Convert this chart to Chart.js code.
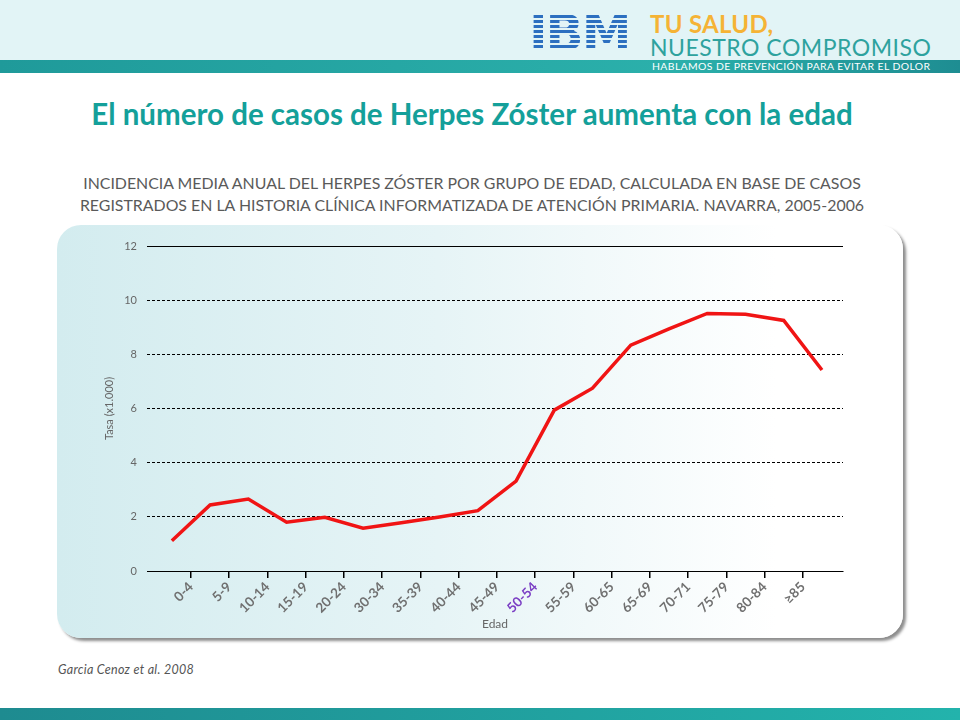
<!DOCTYPE html>
<html lang="es">
<head>
<meta charset="utf-8">
<title>Herpes Zóster por edad</title>
<script src="https://cdn.jsdelivr.net/npm/chart.js@4.4.1/dist/chart.umd.min.js"></script>
<style>
  html, body { margin: 0; padding: 0; }
  body { width: 960px; height: 720px; position: relative; overflow: hidden; background: #fff; font-family: Lato, "Open Sans", sans-serif; }
  #band { position: absolute; left: 0; top: 0; width: 960px; height: 60px; background: #e2f4f6; }
  #bar { position: absolute; left: 0; top: 60px; width: 960px; height: 13px; background: linear-gradient(to right, #1f9a9a, #2bb0ab 70%, #1e8d92); }
  #bar span { position: absolute; left: 652px; top: 0px; font-size: 10.4px; line-height: 13px; color: #fff; letter-spacing: 0.4px; }
  #ibm { position: absolute; left: 529px; top: 10px; font-size: 50px; font-weight: 900; font-family: "DejaVu Sans", sans-serif; letter-spacing: -2px;
         color: transparent; background: repeating-linear-gradient(#2c6fc0 0 3px, transparent 3px 5px); -webkit-background-clip: text; background-clip: text; line-height: 46px; }
  #tu { position: absolute; left: 650px; top: 9px; font-size: 24px; color: #f5b335; font-weight: bold; letter-spacing: 0.3px; }
  #nc { position: absolute; left: 650px; top: 33px; font-size: 23px; color: #2ea29e; letter-spacing: 0.5px; }
  #title { position: absolute; left: 0; width: 944px; top: 96px; text-align: center; font-size: 29.5px; font-weight: bold; color: #14a09a; }
  #sub { position: absolute; left: 0; width: 944px; top: 172px; text-align: center; font-size: 15.9px; line-height: 22px; color: #5a5a5a; }
  #panel { position: absolute; left: 57px; top: 225px; width: 846px; height: 413px; border-radius: 24px;
           background: linear-gradient(to right, #d3ecef 0%, #e6f4f6 45%, #ffffff 85%); box-shadow: 3px 3px 3px rgba(0,0,0,0.45); }
  #panel canvas { position: absolute; left: 0; top: 0; }
  #cite { position: absolute; left: 58px; top: 662px; font-size: 12.5px; font-style: italic; color: #555; letter-spacing: 0.3px; }
  #foot { position: absolute; left: 0; top: 708px; width: 960px; height: 12px; background: linear-gradient(to right, #1e8b90, #23b3ac); }
</style>
</head>
<body>
<div id="band"></div>
<div id="bar"><span>HABLAMOS DE PREVENCIÓN PARA EVITAR EL DOLOR</span></div>
<div id="ibm">IBM</div>
<div id="tu">TU SALUD,</div>
<div id="nc">NUESTRO COMPROMISO</div>
<div id="title">El número de casos de Herpes Zóster aumenta con la edad</div>
<div id="sub">INCIDENCIA MEDIA ANUAL DEL HERPES ZÓSTER POR GRUPO DE EDAD, CALCULADA EN BASE DE CASOS<br>REGISTRADOS EN LA HISTORIA CLÍNICA INFORMATIZADA DE ATENCIÓN PRIMARIA. NAVARRA, 2005-2006</div>
<div id="panel"><canvas id="chart" width="846" height="413"></canvas></div>
<div id="cite">Garcia Cenoz et al. 2008</div>
<div id="foot"></div>

<script>
// tick labels on the x axis (the original shows 17, one group is missing)
const ageGroups = ['0-4', '5-9', '10-14', '15-19', '20-24', '30-34', '35-39', '40-44', '45-49',
                   '50-54', '55-59', '60-65', '65-69', '70-71', '75-79', '80-84', '≥85'];
// rate per 1.000, the red line has 18 points
const rates = [1.12, 2.44, 2.66, 1.80, 1.98, 1.58, 1.78, 1.99, 2.23,
               3.32, 5.94, 6.75, 8.34, 8.94, 9.51, 9.48, 9.25, 7.42];
const yTicks = [0, 2, 4, 6, 8, 10, 12];

const highlightIndex = ageGroups.indexOf('50-54');

// solid line on top of the grid at the max value
const topLine = {
    id: 'topLine',
    afterDraw(chart) {
        const y = chart.scales.y.getPixelForValue(yTicks[yTicks.length - 1]);
        const ctx = chart.ctx;
        ctx.save();
        ctx.strokeStyle = '#000';
        ctx.lineWidth = 1;
        ctx.beginPath();
        ctx.moveTo(chart.chartArea.left, Math.round(y) + 0.5);
        ctx.lineTo(chart.chartArea.right, Math.round(y) + 0.5);
        ctx.stroke();
        ctx.restore();
    }
};

const ctx = document.getElementById('chart').getContext('2d');
new Chart(ctx, {
    type: 'line',
    data: {
        datasets: [{
            label: 'Tasa',
            data: rates.map((v, i) => ({ x: i, y: v })),
            borderColor: '#f01414',
            borderWidth: 3.5,
            pointRadius: 0,
            tension: 0,
            fill: false
        }]
    },
    options: {
        responsive: false,
        animation: false,
        layout: { padding: { left: 40, right: 60, top: 21, bottom: 7 } },
        plugins: { legend: { display: false }, tooltip: { enabled: false } },
        scales: {
            x: {
                type: 'linear',
                min: -0.65,
                max: 17.55,
                afterBuildTicks: s => { s.ticks = ageGroups.map((g, i) => ({ value: i + 0.5 })); },
                afterFit: s => { s.height = 60; },
                ticks: {
                    autoSkip: false,
                    minRotation: 45,
                    maxRotation: 45,
                    padding: 1,
                    callback: (v, i) => ageGroups[i],
                    color: c => c.index === highlightIndex ? '#7b3fc4' : '#707070',
                    font: { family: 'Lato', size: 13.5, weight: 'bold' }
                },
                grid: { drawOnChartArea: false, drawTicks: true, tickLength: 7, color: '#000', lineWidth: 1.5 },
                border: { display: true, color: '#000', width: 1 },
                title: { display: true, text: 'Edad', color: '#666', font: { family: 'Lato', size: 12 }, padding: 0 }
            },
            y: {
                min: 0,
                max: 12,
                afterBuildTicks: s => { s.ticks = yTicks.map(v => ({ value: v })); },
                afterFit: s => { s.width = 50; },
                ticks: { color: '#666', padding: 10, font: { family: 'Lato', size: 11 } },
                grid: { color: '#000', lineWidth: 1, drawTicks: false },
                border: { display: false, dash: [3, 2] },
                title: { display: true, text: 'Tasa (x1.000)', color: '#666', font: { family: 'Lato', size: 11 }, padding: { top: 6, bottom: 0 } }
            }
        }
    },
    plugins: [topLine]
});
</script>
</body>
</html>
